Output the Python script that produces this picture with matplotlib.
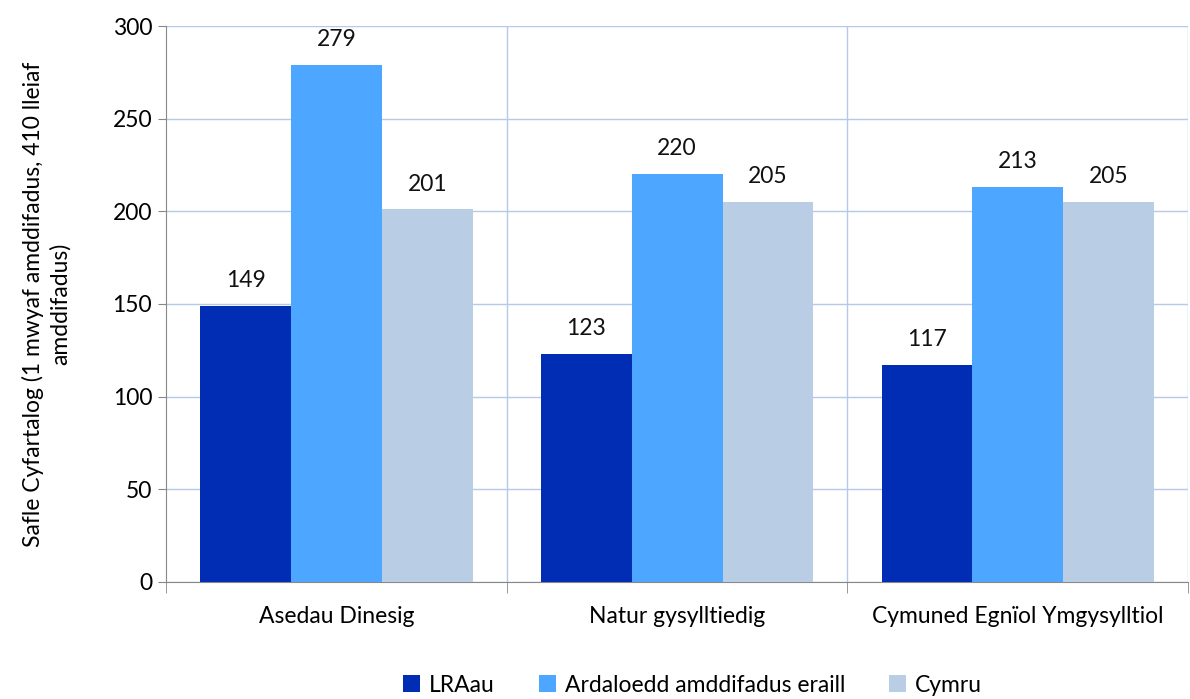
import matplotlib
matplotlib.use("Agg")
import matplotlib.pyplot as plt
import numpy as np

plt.rcParams['font.family'] = ['Lato', 'DejaVu Sans']

categories = ['Asedau Dinesig', 'Natur gysylltiedig', 'Cymuned Egnïol Ymgysylltiol']
series = ['LRAau', 'Ardaloedd amddifadus eraill', 'Cymru']
lraau = [149, 123, 117]
eraill = [279, 220, 213]
cymru = [201, 205, 205]
colors = ['#002DB3', '#4DA6FF', '#B9CDE5']

fs = 16.5

fig = plt.figure(figsize=(11.9, 6.99), dpi=100)
ax = fig.add_axes([0.1395, 0.1674, 0.859, 0.7954])

x = np.arange(len(categories))
w = 0.8 / 3
for i, (vals, name) in enumerate(zip([lraau, eraill, cymru], series)):
    pos = x + (i - 1) * w
    ax.bar(pos, vals, width=w, color=colors[i], label=name, zorder=3)
    for p, v in zip(pos, vals):
        ax.text(p, v + 8, str(v), ha='center', va='bottom', fontsize=fs, color='#111111')

ax.set_xlim(-0.5, 2.5)
ax.set_ylim(0, 300)
ax.set_yticks(np.arange(0, 301, 50))
ax.tick_params(axis='y', labelsize=fs, length=6, color='#888888', pad=4)
ax.set_xticks(x)
ax.set_xticklabels(categories, fontsize=fs)
ax.tick_params(axis='x', length=0, pad=17)
ax.set_xticks([-0.5, 0.5, 1.5, 2.5], minor=True)
ax.tick_params(axis='x', which='minor', length=8, color='#888888')

ax.grid(axis='y', color='#B4CAE8', linewidth=1, zorder=0)
for b in [0.5, 1.5, 2.5]:
    ax.axvline(b, color='#B4CAE8', linewidth=1, zorder=0)

for s in ['top', 'right']:
    ax.spines[s].set_visible(False)
for s in ['left', 'bottom']:
    ax.spines[s].set_color('#888888')

ax.set_ylabel('Safle Cyfartalog (1 mwyaf amddifadus, 410 lleiaf\namddifadus)',
              fontsize=fs, labelpad=30, linespacing=1.3)

fig.legend(*ax.get_legend_handles_labels(), loc='center', bbox_to_anchor=(0.582, 0.02),
           ncol=3, frameon=False, fontsize=fs, handlelength=0.75, handleheight=0.75,
           columnspacing=1.9, handletextpad=0.4)

fig.savefig('out.png', dpi=100)
